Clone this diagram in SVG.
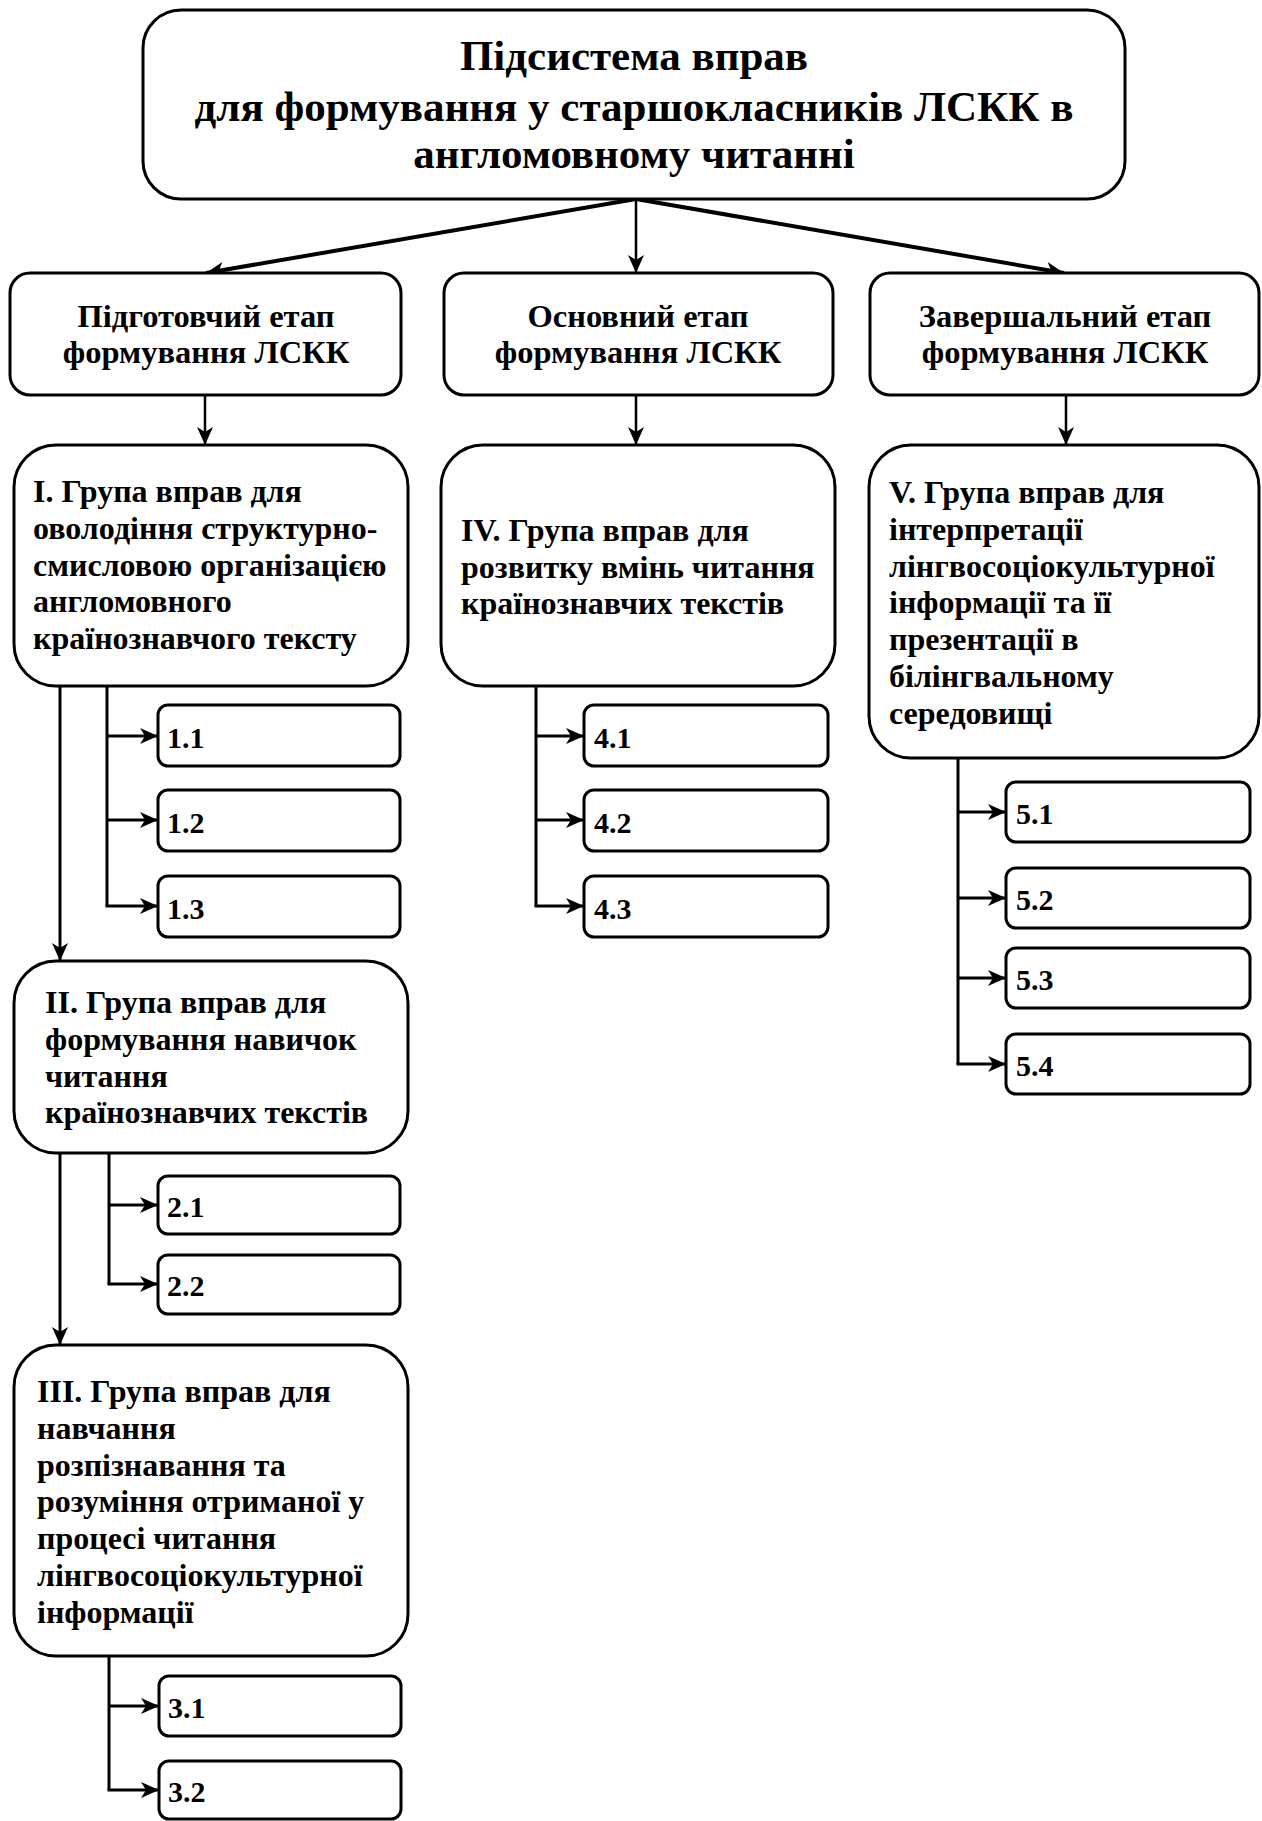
<svg xmlns="http://www.w3.org/2000/svg" width="1262" height="1821" viewBox="0 0 1262 1821">
<style>
.box{fill:#fff;stroke:#000;stroke-width:3}
.t{font-family:"Liberation Serif","Times New Roman",serif;font-weight:bold;fill:#000}
.title{font-size:43px;text-anchor:middle}
.stage{font-size:32.5px;text-anchor:middle}
.grp{font-size:32px}
.sub{font-size:30px}
.ln{fill:none;stroke:#000;stroke-width:3}
.thin{fill:none;stroke:#000;stroke-width:2.5}
</style>
<defs>
<marker id="ah" markerUnits="userSpaceOnUse" markerWidth="20" markerHeight="16" refX="18" refY="8" orient="auto">
<path d="M0,0 L18,8 L0,16 L5,8 z" fill="#000"/>
</marker>
</defs>
<rect width="1262" height="1821" fill="#fff"/>
<g id="connectors">
<line class="ln" x1="636" y1="199" x2="206" y2="273" marker-end="url(#ah)" style="stroke-width:4"/>
<line class="thin" x1="636" y1="199" x2="636" y2="273" marker-end="url(#ah)"/>
<line class="ln" x1="636" y1="199" x2="1064" y2="273" marker-end="url(#ah)" style="stroke-width:4"/>
<line class="thin" x1="205" y1="395" x2="205" y2="445" marker-end="url(#ah)"/>
<line class="thin" x1="636" y1="395" x2="636" y2="445" marker-end="url(#ah)"/>
<line class="thin" x1="1066" y1="395" x2="1066" y2="445" marker-end="url(#ah)"/>
<path class="ln" d="M107,686 V906"/>
<line class="ln" x1="107" y1="736" x2="158" y2="736" marker-end="url(#ah)"/>
<line class="ln" x1="107" y1="820" x2="158" y2="820" marker-end="url(#ah)"/>
<line class="ln" x1="105.5" y1="906" x2="158" y2="906" marker-end="url(#ah)"/>
<line class="ln" x1="60" y1="686" x2="60" y2="961" marker-end="url(#ah)"/>
<path class="ln" d="M109,1153 V1284"/>
<line class="ln" x1="109" y1="1205" x2="158" y2="1205" marker-end="url(#ah)"/>
<line class="ln" x1="107.5" y1="1284" x2="158" y2="1284" marker-end="url(#ah)"/>
<line class="ln" x1="60" y1="1153" x2="60" y2="1345" marker-end="url(#ah)"/>
<path class="ln" d="M109,1656 V1790"/>
<line class="ln" x1="109" y1="1706" x2="159" y2="1706" marker-end="url(#ah)"/>
<line class="ln" x1="107.5" y1="1790" x2="159" y2="1790" marker-end="url(#ah)"/>
<path class="ln" d="M536,686 V906"/>
<line class="ln" x1="536" y1="736" x2="584" y2="736" marker-end="url(#ah)"/>
<line class="ln" x1="536" y1="820" x2="584" y2="820" marker-end="url(#ah)"/>
<line class="ln" x1="534.5" y1="906" x2="584" y2="906" marker-end="url(#ah)"/>
<path class="ln" d="M958,758 V1064"/>
<line class="ln" x1="958" y1="812" x2="1006" y2="812" marker-end="url(#ah)"/>
<line class="ln" x1="958" y1="898" x2="1006" y2="898" marker-end="url(#ah)"/>
<line class="ln" x1="958" y1="978" x2="1006" y2="978" marker-end="url(#ah)"/>
<line class="ln" x1="956.5" y1="1064" x2="1006" y2="1064" marker-end="url(#ah)"/>
</g>
<g id="top">
<rect class="box" x="143" y="10" width="982" height="189" rx="38"/>
<text class="t title" x="634" y="70">Підсистема вправ</text>
<text class="t title" x="634" y="121">для формування у старшокласників ЛСКК в</text>
<text class="t title" x="634" y="168">англомовному читанні</text>
</g>
<g id="stage1">
<rect class="box" x="10" y="273" width="391" height="122" rx="20"/>
<text class="t stage" x="206" y="327">Підготовчий етап</text>
<text class="t stage" x="206" y="363">формування ЛСКК</text>
</g>
<g id="stage2">
<rect class="box" x="444" y="273" width="389" height="122" rx="20"/>
<text class="t stage" x="638" y="327">Основний етап</text>
<text class="t stage" x="638" y="363">формування ЛСКК</text>
</g>
<g id="stage3">
<rect class="box" x="870" y="273" width="389" height="122" rx="20"/>
<text class="t stage" x="1065" y="327">Завершальний етап</text>
<text class="t stage" x="1065" y="363">формування ЛСКК</text>
</g>
<g id="group1">
<rect class="box" x="14" y="445" width="394" height="241" rx="42"/>
<text class="t grp" x="33" y="502">I. Група вправ для</text>
<text class="t grp" x="33" y="539">оволодіння структурно-</text>
<text class="t grp" x="33" y="576">смисловою організацією</text>
<text class="t grp" x="33" y="612">англомовного</text>
<text class="t grp" x="33" y="649">країнознавчого тексту</text>
</g>
<g id="group4">
<rect class="box" x="441" y="445" width="394" height="241" rx="42"/>
<text class="t grp" x="461" y="541">IV. Група вправ для</text>
<text class="t grp" x="461" y="578">розвитку вмінь читання</text>
<text class="t grp" x="461" y="614">країнознавчих текстів</text>
</g>
<g id="group5">
<rect class="box" x="869" y="445" width="390" height="313" rx="42"/>
<text class="t grp" x="889" y="503">V. Група вправ для</text>
<text class="t grp" x="889" y="540">інтерпретації</text>
<text class="t grp" x="889" y="577">лінгвосоціокультурної</text>
<text class="t grp" x="889" y="613">інформації та її</text>
<text class="t grp" x="889" y="650">презентації в</text>
<text class="t grp" x="889" y="687">білінгвальному</text>
<text class="t grp" x="889" y="724">середовищі</text>
</g>
<g id="group2">
<rect class="box" x="14" y="961" width="394" height="192" rx="42"/>
<text class="t grp" x="45" y="1013">II. Група вправ для</text>
<text class="t grp" x="45" y="1050">формування навичок</text>
<text class="t grp" x="45" y="1087">читання</text>
<text class="t grp" x="45" y="1123">країнознавчих текстів</text>
</g>
<g id="group3">
<rect class="box" x="14" y="1345" width="394" height="311" rx="42"/>
<text class="t grp" x="37" y="1402">III. Група вправ для</text>
<text class="t grp" x="37" y="1439">навчання</text>
<text class="t grp" x="37" y="1476">розпізнавання та</text>
<text class="t grp" x="37" y="1512">розуміння отриманої у</text>
<text class="t grp" x="37" y="1549">процесі читання</text>
<text class="t grp" x="37" y="1586">лінгвосоціокультурної</text>
<text class="t grp" x="37" y="1623">інформації</text>
</g>
<g id="s11"><rect class="box" x="158" y="705" width="242" height="61" rx="10"/><text class="t sub" x="167" y="748">1.1</text></g>
<g id="s12"><rect class="box" x="158" y="790" width="242" height="61" rx="10"/><text class="t sub" x="167" y="833">1.2</text></g>
<g id="s13"><rect class="box" x="158" y="876" width="242" height="61" rx="10"/><text class="t sub" x="167" y="919">1.3</text></g>
<g id="s21"><rect class="box" x="158" y="1176" width="242" height="58" rx="10"/><text class="t sub" x="167" y="1217">2.1</text></g>
<g id="s22"><rect class="box" x="158" y="1255" width="242" height="59" rx="10"/><text class="t sub" x="167" y="1296">2.2</text></g>
<g id="s31"><rect class="box" x="159" y="1676" width="242" height="60" rx="10"/><text class="t sub" x="168" y="1718">3.1</text></g>
<g id="s32"><rect class="box" x="159" y="1761" width="242" height="58" rx="10"/><text class="t sub" x="168" y="1802">3.2</text></g>
<g id="s41"><rect class="box" x="584" y="705" width="244" height="61" rx="10"/><text class="t sub" x="594" y="748">4.1</text></g>
<g id="s42"><rect class="box" x="584" y="790" width="244" height="61" rx="10"/><text class="t sub" x="594" y="833">4.2</text></g>
<g id="s43"><rect class="box" x="584" y="876" width="244" height="61" rx="10"/><text class="t sub" x="594" y="919">4.3</text></g>
<g id="s51"><rect class="box" x="1006" y="782" width="244" height="60" rx="10"/><text class="t sub" x="1016" y="824">5.1</text></g>
<g id="s52"><rect class="box" x="1006" y="868" width="244" height="60" rx="10"/><text class="t sub" x="1016" y="910">5.2</text></g>
<g id="s53"><rect class="box" x="1006" y="948" width="244" height="60" rx="10"/><text class="t sub" x="1016" y="990">5.3</text></g>
<g id="s54"><rect class="box" x="1006" y="1034" width="244" height="60" rx="10"/><text class="t sub" x="1016" y="1076">5.4</text></g>
</svg>
